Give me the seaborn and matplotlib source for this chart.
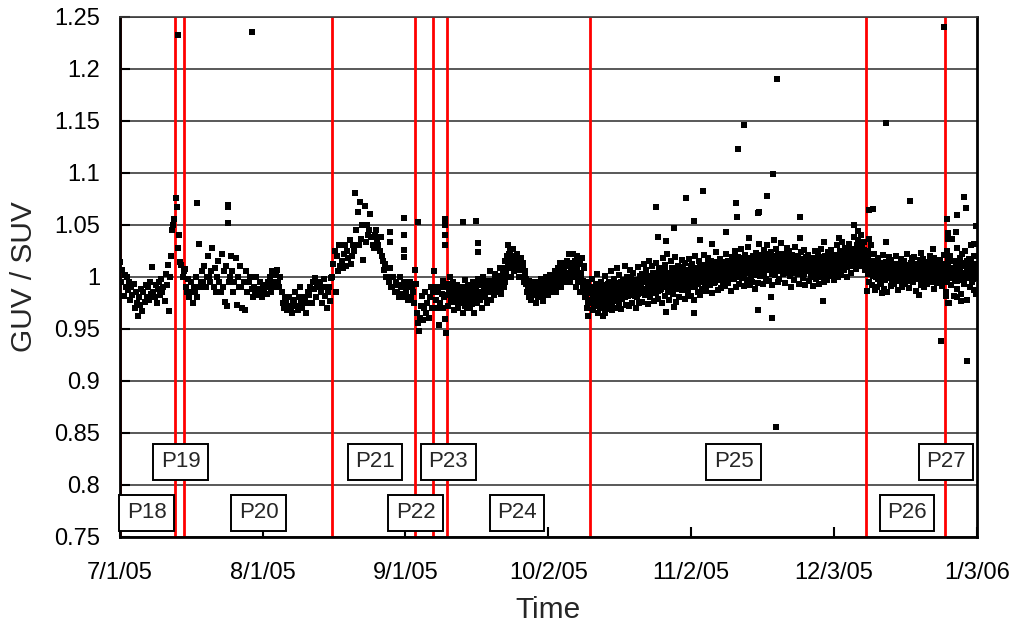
"""GUV / SUV ratio over the P18-P27 deployment periods, July 2005 to January 2006."""

import matplotlib

matplotlib.use("Agg")
import matplotlib.pyplot as plt
import numpy as np
import pandas as pd
import seaborn as sns
from matplotlib.ticker import FixedLocator, FuncFormatter


RED = "#FF0000"
GRID = "#3C3C3C"

# day offsets are counted from 7/1/05
TICK_DAYS = [0, 31, 62, 93, 124, 155, 186]
TICK_LABELS = ["7/1/05", "8/1/05", "9/1/05", "10/2/05", "11/2/05", "12/3/05", "1/3/06"]

# period boundaries (red lines): 7/1, 7/13, 7/15, 8/16, 9/3, 9/7, 9/10, 10/11, 12/10, 12/27
BOUNDARY_DAYS = [0, 12, 14, 46, 64, 68, 71, 102, 162, 179]
PERIOD_END = 186

PERIOD_NAMES = ["P18", "P19", "P20", "P21", "P22", "P23", "P24", "P25", "P26", "P27"]
LABEL_DAYS = [5.9, 13.2, 30.1, 55.4, 64.2, 71.3, 86.2, 133.2, 170.8, 179.3]
LABEL_LEVELS = [0.773, 0.822, 0.773, 0.822, 0.773, 0.822, 0.773, 0.822, 0.773, 0.822]

P18 = [
    1.014, 0.995, 1.006, 0.981, 1.002,
    0.990, 1.000, 0.987, 0.995,
    0.978, 0.990, 0.982, 0.993,
    0.970, 0.985, 0.975, 0.962,
    0.980, 0.973, 0.988, 0.967,
    0.985, 0.976, 0.992, 0.980,
    0.990, 0.978, 0.995, 0.983,
    1.009, 0.985, 0.980, 0.992,
    0.975, 0.988, 0.995, 0.982,
    0.998, 0.985, 0.990, 0.977,
    1.003, 0.992, 1.011, 0.967,
    1.000, 1.020, 1.045, 1.050, 1.055,
]

P19 = [1.076, 1.067, 1.028, 1.040, 1.014, 1.011, 1.000, 1.005]

P20 = [
    1.007, 0.990, 0.985, 0.998,
    0.980, 0.995, 0.985, 0.975,
    0.990, 0.985, 1.000, 0.980,
    1.031, 0.990, 0.995, 1.005,
    0.995, 1.010, 0.990, 1.000,
    1.020, 1.000, 0.995, 1.005,
    1.028, 0.990, 1.008, 0.985,
    1.000, 1.015, 0.995, 0.985,
    1.022, 0.990, 1.005, 0.976,
    1.010, 0.972, 0.995, 1.000,
    1.020, 1.005, 0.985, 0.995,
    1.018, 0.973, 1.000, 0.990,
    1.010, 0.990, 0.970, 0.995,
    0.968, 1.005, 0.985, 0.995,
    0.995, 1.000, 0.988, 0.980,
    0.990, 0.985, 1.000, 0.982,
    0.988, 0.995, 0.985, 0.980,
    0.990, 0.985, 0.992, 0.983,
    0.995, 0.990, 1.000, 0.985,
    1.005, 0.995, 0.990, 1.002,
    1.006, 0.995, 0.990, 1.000,
    0.985, 0.975, 0.970, 0.980,
    0.975, 0.968, 0.980, 0.972,
    0.970, 0.965, 0.975, 0.978,
    0.985, 0.972, 0.968, 0.980,
    0.990, 0.975, 0.970, 0.978,
    0.980, 0.965, 0.975, 0.985,
    0.982, 0.990, 0.975, 0.995,
    0.988, 0.999, 0.980, 0.993,
    0.990, 0.995, 0.985, 0.975,
    0.990, 0.998, 0.981, 0.970,
    0.985, 0.990, 0.977, 0.999,
]

P21 = [
    1.000, 1.012, 1.025, 0.985,
    1.020, 1.005, 1.030, 1.010,
    1.015, 1.008, 1.022, 1.030,
    1.010, 1.025, 1.018, 1.035,
    1.012, 1.020, 1.030, 1.025,
    1.080, 1.045, 1.062, 1.030,
    1.072, 1.036, 1.050, 1.016,
    1.068, 1.033, 1.050, 1.040,
    1.045, 1.060, 1.038, 1.030,
    1.028, 1.040, 1.045, 1.035,
    1.030, 1.025, 1.038, 1.020,
    1.015, 1.006, 1.012, 1.000,
    1.000, 0.995, 1.008, 0.990,
    0.990, 1.000, 0.985, 0.995,
    0.985, 0.992, 0.980, 1.000,
    0.990, 0.983, 0.995, 0.980,
    0.985, 0.990, 0.978, 0.995,
    0.980, 0.990, 0.985, 0.975,
]

P22 = [
    1.006, 0.993, 0.965, 0.955, 0.948, 0.960,
    0.972, 0.981, 0.958, 0.970, 0.985, 0.965,
    0.975, 0.960, 0.980, 0.990, 0.970, 0.985,
]

P23 = [
    1.005, 0.990, 0.978, 0.970, 0.985,
    0.954, 0.975, 0.990, 0.983, 0.996,
    0.970, 0.980, 0.959, 0.946,
]

P24 = [
    0.990, 0.972, 0.985, 1.000, 0.978,
    0.983, 0.995, 0.968, 0.988, 0.976,
    0.992, 0.980, 0.970, 0.985, 0.975,
    0.978, 0.990, 0.965, 0.982, 0.997,
    0.985, 0.970, 0.992, 0.975, 0.980,
    0.970, 0.988, 0.978, 0.995, 0.965,
    0.982, 0.990, 0.975, 0.998, 0.985,
    0.978, 0.992, 0.985, 0.970, 1.000,
    0.990, 0.980, 0.995, 0.975, 0.987,
    0.985, 1.005, 0.978, 0.993, 0.990,
    0.995, 0.982, 1.003, 0.990, 0.985,
    0.998, 0.988, 1.008, 0.983, 0.995,
    1.005, 0.990, 1.015, 0.995, 1.000,
    1.020, 1.030, 1.008, 1.025, 1.000,
    1.015, 1.027, 1.005, 1.018, 1.010,
    1.022, 1.008, 1.015, 1.000, 1.012,
    1.018, 1.000, 1.010, 0.995, 1.005,
    0.998, 0.985, 0.992, 0.980, 0.990,
    0.985, 0.978, 0.990, 0.995, 0.982,
    0.988, 0.975, 0.995, 0.980, 0.990,
    0.992, 0.982, 0.998, 0.985, 0.977,
    0.995, 0.985, 1.000, 0.990, 0.982,
    0.990, 1.002, 0.985, 0.995, 0.988,
    1.000, 0.990, 1.005, 0.985, 0.995,
    1.008, 0.995, 1.013, 0.990, 1.000,
    1.005, 1.013, 0.995, 1.010, 0.998,
    1.015, 1.000, 1.022, 0.995, 1.008,
    1.010, 1.022, 1.000, 1.015, 0.990,
    1.005, 1.020, 0.995, 1.012, 0.985,
    1.000, 1.018, 0.990, 1.008, 0.980,
    0.985, 0.970, 0.995, 0.962, 0.978,
]

# second pass of readings in the busier autumn periods
P24_EXTRA = [
    0.982, 0.993, 0.976, 0.988, 0.979, 0.991, 0.984, 0.974, 0.989,
    0.980, 0.987, 0.972, 0.978, 0.988, 0.983, 0.981, 0.974, 0.990,
    0.987, 0.979, 0.992, 0.984, 0.995, 0.980, 0.982, 0.991, 0.986,
    0.996, 0.986, 0.992, 0.990, 0.998, 0.987, 0.993, 1.001, 0.989,
    1.008, 0.997, 1.003, 1.014, 1.022, 1.011, 1.020, 1.012, 1.016,
    1.010, 1.018, 1.006, 1.006, 1.013, 1.002, 0.993, 0.987, 0.996,
    0.988, 0.983, 0.991, 0.983, 0.992, 0.986, 0.988, 0.993, 0.981,
    0.990, 0.996, 0.986, 0.993, 0.988, 0.998, 0.995, 1.001, 0.991,
    1.003, 0.998, 1.006, 1.004, 1.008, 1.001, 1.010, 1.004, 1.013,
    1.006, 1.012, 1.003, 1.009, 1.001, 1.014, 1.004, 0.996, 1.010,
    0.982, 0.975, 0.990,
]

P25 = [
    0.990, 0.975, 0.998, 0.968, 0.985, 0.979,
    0.972, 0.993, 0.980, 1.003, 0.965, 0.986,
    0.988, 0.970, 0.995, 0.978, 0.962, 0.984,
    0.976, 1.001, 0.983, 0.969, 0.992, 0.980,
    0.995, 0.972, 0.987, 1.005, 0.978, 0.968,
    0.983, 0.998, 0.970, 0.990, 0.977, 1.008,
    0.992, 0.975, 1.002, 0.984, 0.969, 0.995,
    0.979, 0.997, 0.986, 1.010, 0.973, 0.990,
    1.000, 0.981, 0.993, 0.972, 1.006, 0.985,
    0.975, 0.991, 1.004, 0.983, 0.996, 0.970,
    0.994, 0.980, 1.009, 0.987, 0.975, 1.001,
    0.985, 1.003, 0.976, 0.996, 1.012, 0.982,
    1.006, 0.988, 0.997, 0.974, 0.992, 1.015,
    0.980, 0.999, 1.010, 0.986, 1.003, 0.977,
    0.995, 1.013, 0.984, 1.004, 0.979, 0.998,
    1.008, 0.987, 1.001, 0.975, 0.996, 1.018,
    0.990, 1.011, 0.981, 1.000, 1.022, 0.985,
    1.004, 0.978, 0.997, 1.015, 0.988, 1.007,
    0.983, 1.002, 1.019, 0.990, 0.976, 0.999,
    1.010, 0.992, 0.980, 1.005, 0.995, 1.016,
    0.987, 1.008, 0.996, 0.979, 1.013, 0.991,
    1.002, 0.984, 1.017, 0.994, 1.006, 0.981,
    0.990, 1.012, 0.998, 0.978, 1.003, 1.020,
    1.007, 0.993, 0.985, 1.015, 0.999, 0.982,
    0.995, 1.011, 0.988, 1.004, 1.021, 0.990,
    1.009, 0.986, 1.002, 1.018, 0.993, 1.006,
    0.992, 1.015, 1.003, 0.984, 1.010, 0.997,
    1.012, 0.995, 1.024, 1.000, 0.987, 1.008,
    0.998, 1.017, 0.989, 1.006, 1.014, 0.993,
    1.010, 0.991, 1.003, 1.022, 0.997, 1.015,
    0.994, 1.012, 1.000, 0.986, 1.019, 1.006,
    1.014, 0.998, 1.025, 1.004, 0.990, 1.010,
    1.001, 1.019, 0.993, 1.011, 1.027, 0.999,
    1.016, 1.003, 0.991, 1.021, 1.008, 1.012,
    0.997, 1.013, 1.029, 1.005, 0.992, 1.018,
    1.010, 0.995, 1.020, 1.002, 1.015, 0.988,
    1.023, 1.006, 0.994, 1.014, 1.031, 1.001,
    1.004, 1.020, 1.010, 0.993, 1.026, 1.013,
    1.017, 0.998, 1.030, 1.008, 1.021, 0.996,
    1.006, 1.024, 1.013, 0.992, 1.018, 1.035,
    1.015, 1.002, 1.027, 1.009, 0.995, 1.021,
    0.998, 1.019, 1.007, 1.032, 1.012, 1.003,
    1.022, 1.010, 0.994, 1.016, 1.028, 1.005,
    1.008, 1.025, 1.001, 0.990, 1.014, 1.019,
    1.017, 0.997, 1.012, 1.029, 1.004, 1.010,
    1.003, 1.020, 0.993, 1.011, 1.024, 1.006,
    1.014, 0.999, 1.026, 1.008, 0.992, 1.017,
    1.005, 1.021, 1.010, 0.996, 1.015, 1.000,
    1.018, 1.002, 0.991, 1.012, 1.025, 1.007,
    0.998, 1.013, 1.022, 1.004, 0.993, 1.016,
    1.011, 1.027, 1.000, 1.015, 0.995, 1.008,
    1.020, 1.006, 0.997, 1.024, 1.010, 1.003,
    1.008, 1.018, 1.026, 1.001, 1.013, 0.997,
    1.021, 1.005, 1.015, 1.030, 1.000, 1.010,
    1.009, 1.025, 1.002, 1.017, 1.033, 1.012,
    1.020, 1.006, 1.028, 1.013, 1.000, 1.023,
    1.011, 1.031, 1.018, 1.004, 1.025, 1.015,
    1.027, 1.012, 1.038, 1.020, 1.007, 1.030,
    1.016, 1.035, 1.023, 1.010, 1.040, 1.019,
    1.028, 1.012, 1.033, 1.021, 1.006, 1.025,
]

P25_EXTRA = [
    0.984, 0.977, 0.989, 0.981, 0.973, 0.979, 0.986, 0.975, 0.990, 0.983,
    0.985, 0.978, 0.981, 0.991, 0.974, 0.980, 0.988, 0.976, 0.984, 0.993,
    0.986, 0.979, 0.992, 0.983, 0.976, 0.989, 0.982, 0.994, 0.985, 0.978,
    0.981, 0.990, 0.986, 0.995, 0.979, 0.992, 0.984, 0.988, 0.980, 0.996,
    0.986, 0.994, 0.982, 0.990, 0.998, 0.993, 0.985, 0.989, 0.997, 0.981,
    0.988, 0.996, 0.983, 0.992, 0.999, 0.991, 0.984, 0.997, 0.988, 1.002,
    0.995, 0.987, 1.001, 0.990, 0.983, 0.989, 0.997, 0.993, 1.004, 0.985,
    0.998, 0.990, 1.003, 0.994, 0.986, 0.992, 1.000, 0.988, 0.996, 1.006,
    0.997, 1.005, 0.990, 1.001, 0.993, 0.993, 1.001, 0.996, 0.987, 1.008,
    1.000, 0.992, 1.005, 0.995, 0.988, 0.994, 1.003, 0.998, 1.009, 0.990,
    1.001, 0.993, 1.006, 0.997, 0.989, 0.996, 1.004, 0.991, 1.000, 1.010,
    1.002, 0.994, 1.008, 0.998, 0.990, 0.997, 1.006, 0.993, 1.002, 1.011,
    1.003, 0.996, 1.009, 1.000, 0.993, 0.998, 1.007, 1.002, 1.012, 0.995,
    1.005, 0.999, 1.010, 1.001, 0.994, 1.000, 1.008, 1.003, 1.014, 0.997,
    1.007, 1.001, 1.011, 1.004, 0.996, 1.002, 1.009, 0.999, 1.006, 1.014,
    1.008, 1.002, 1.013, 1.005, 0.998, 1.004, 1.011, 1.007, 1.016, 1.000,
    1.010, 1.003, 1.014, 1.006, 1.018, 1.005, 1.012, 1.000, 1.009, 1.017,
    1.011, 1.004, 1.015, 1.008, 1.001, 1.006, 1.013, 1.009, 1.019, 1.002,
    1.012, 1.005, 1.016, 1.009, 1.021, 1.008, 1.015, 1.011, 1.004, 1.019,
    1.013, 1.006, 1.017, 1.010, 1.022, 1.009, 1.016, 1.003, 1.012, 1.020,
    1.014, 1.007, 1.018, 1.011, 1.005, 1.010, 1.017, 1.013, 1.022, 1.006,
    1.015, 1.008, 1.012, 1.019, 1.004, 1.011, 1.018, 1.007, 1.014, 1.021,
    1.006, 1.013, 1.016, 1.009, 1.020, 1.012, 1.005, 1.017, 1.010, 1.015,
    1.008, 1.014, 1.003, 1.011, 1.019, 1.013, 1.006, 1.016, 1.009, 1.002,
    1.007, 1.014, 1.010, 1.018, 1.004, 1.012, 1.005, 1.015, 1.008, 1.019,
    1.006, 1.013, 1.009, 1.017, 1.002, 1.014, 1.008, 1.018, 1.011, 1.004,
    1.010, 1.017, 1.013, 1.021, 1.006, 1.016, 1.009, 1.020, 1.012, 1.005,
    1.011, 1.019, 1.015, 1.023, 1.008, 1.018, 1.012, 1.022, 1.016, 1.009,
    1.014, 1.021, 1.017, 1.026, 1.010, 1.022, 1.016, 1.027, 1.019, 1.013,
    1.018, 1.025, 1.021, 1.030, 1.014, 1.023, 1.017, 1.026, 1.020, 1.012,
]

P26 = [
    1.018, 1.003, 1.025, 0.995, 1.010, 1.030,
    1.008, 0.992, 1.015, 1.002, 1.022, 0.987,
    1.000, 1.012, 0.990, 1.018, 1.005, 0.996,
    1.010, 0.993, 1.004, 1.021, 0.988, 1.007,
    0.997, 1.014, 1.002, 0.985, 1.009, 1.019,
    1.006, 0.991, 1.016, 1.000, 0.995, 1.011,
    0.993, 1.008, 1.020, 0.998, 1.004, 0.987,
    1.012, 0.996, 1.003, 1.017, 0.990, 1.007,
    1.001, 1.015, 0.993, 1.009, 1.022, 0.997,
    1.008, 0.989, 1.004, 1.013, 0.999, 1.018,
    0.995, 1.010, 1.019, 1.002, 0.986, 1.006,
    1.011, 0.998, 1.004, 1.016, 0.992, 1.023,
    1.003, 1.017, 0.990, 1.008, 1.012, 0.996,
    0.993, 1.006, 1.014, 0.999, 1.020, 1.004,
    1.009, 0.995, 1.002, 1.018, 0.988, 1.012,
    1.000, 1.013, 0.994, 1.007, 1.016, 0.997,
    1.015, 1.003, 0.991, 1.010, 1.005, 1.021,
]

P26_EXTRA = [
    1.012, 1.020, 1.006, 1.015, 1.009, 1.001, 1.013, 1.005,
    1.004, 1.010, 0.998, 1.007, 1.002, 1.009, 1.013, 0.997,
    1.006, 0.999, 1.011, 1.004, 1.003, 1.010, 0.997, 1.007,
    1.005, 0.998, 1.012, 1.001, 1.000, 1.008, 1.004, 1.013,
    1.006, 0.999, 1.011, 1.003, 1.002, 1.009, 0.996, 1.006,
    1.007, 1.000, 1.012, 1.004, 1.003, 1.010, 0.998, 1.008,
    1.006, 0.999, 1.011, 1.002, 1.001, 1.009, 1.004, 1.012,
    1.005, 0.997, 1.010, 1.003, 1.002, 1.008, 1.005, 0.998,
    1.007, 1.000, 1.012, 1.004,
]

P27 = [
    1.010, 0.985, 1.025, 0.998, 1.015, 0.975,
    1.003, 1.020, 0.992, 1.036, 1.008, 0.981,
    1.015, 0.996, 1.005, 1.028, 0.988, 1.012,
    0.999, 1.018, 1.007, 0.983, 1.022, 1.002,
    1.010, 0.993, 1.025, 1.004, 0.978, 1.015,
    1.001, 1.017, 0.990, 1.009, 1.030, 0.995,
    1.008, 0.987, 1.020, 0.999, 1.012, 0.983,
]

P27_EXTRA = [
    1.004, 0.995, 1.012, 1.000, 1.008, 0.999, 1.015, 1.003,
    1.002, 1.010, 0.996, 1.006, 1.009, 1.001, 1.013, 0.997,
    1.004, 1.011, 0.999, 1.007, 1.008, 1.000, 1.014, 1.003,
    0.998, 1.006, 1.002, 1.010,
]

# isolated readings off the main band
OUTLIER_DAYS = [
    12.6, 16.7, 23.5, 23.5, 23.5, 28.6,
    58.6, 58.6, 61.6, 61.6, 61.6, 61.6, 64.7,
    70.5, 70.5, 70.5, 70.5, 74.4, 77.4, 77.7, 77.7,
    105.2, 116.3, 116.9, 118.6, 118.6, 120.2, 120.2, 122.8, 124.5, 124.7,
    125.8, 126.6, 128.6, 131.6, 133.8, 134.0, 134.2, 135.5, 136.6, 138.4,
    138.4, 138.8, 140.5, 141.4, 141.6, 141.8, 142.4, 142.7, 147.5, 147.5,
    152.7, 152.9, 156.1, 159.4, 160.2,
    162.2, 162.6, 162.6, 163.5, 165.3, 166.3, 166.3, 171.5, 173.5, 176.5,
    178.3, 178.8, 179.3, 179.6, 179.8, 179.8, 179.8, 181.5, 181.7, 181.7,
    182.5, 183.2, 183.7, 183.9, 185.3, 185.8, 185.8,
]
OUTLIER_VALUES = [
    1.232, 1.071, 1.069, 1.067, 1.052, 1.235,
    1.043, 1.033, 1.056, 1.040, 1.026, 1.019, 1.053,
    1.055, 1.050, 1.040, 1.030, 1.053, 1.054, 1.032, 1.024,
    0.965, 1.067, 1.038, 1.034, 0.966, 1.047, 0.971, 1.076, 0.965, 1.054,
    1.035, 1.082, 1.031, 1.043, 1.071, 1.057, 1.123, 1.146, 1.037, 1.061,
    0.968, 1.062, 1.078, 0.980, 0.960, 1.099, 0.855, 1.190, 1.057, 1.037,
    0.977, 1.033, 1.037, 1.050, 1.044,
    0.986, 1.064, 1.036, 1.065, 0.984, 1.148, 1.033, 1.073, 0.982, 1.027,
    0.938, 1.240, 0.981, 1.055, 1.042, 1.036, 0.975, 1.043, 1.059, 0.980,
    0.977, 1.077, 1.066, 0.919, 1.031, 1.049, 0.983,
]


def period_readings(start, end, values):
    # readings are regularly sampled across each deployment period
    step = (end - start) / len(values)
    days = start + step * (np.arange(len(values)) + 0.5)
    return pd.DataFrame({"day": days, "ratio": values})


def build_frame():
    ends = BOUNDARY_DAYS[1:] + [PERIOD_END]
    spans = dict(zip(PERIOD_NAMES, zip(BOUNDARY_DAYS, ends)))
    chunks = [
        ("P18", P18), ("P19", P19), ("P20", P20), ("P21", P21), ("P22", P22),
        ("P23", P23), ("P24", P24), ("P24", P24_EXTRA), ("P25", P25),
        ("P25", P25_EXTRA), ("P26", P26), ("P26", P26_EXTRA), ("P27", P27),
        ("P27", P27_EXTRA),
    ]
    frames = [period_readings(*spans[name], values) for name, values in chunks]
    frames.append(pd.DataFrame({"day": OUTLIER_DAYS, "ratio": OUTLIER_VALUES}))
    return pd.concat(frames, ignore_index=True)


def main():
    sns.set_theme(style="white")
    plt.rcParams["font.family"] = ["Liberation Sans", "DejaVu Sans"]

    data = build_frame()

    fig = plt.figure(figsize=(10.18, 6.25), dpi=100)
    ax = fig.add_axes([0.1176, 0.1413, 0.8421, 0.832])

    for day in BOUNDARY_DAYS:
        ax.axvline(day, color=RED, lw=2.0, zorder=2)

    sns.scatterplot(
        data=data, x="day", y="ratio", marker="s", color="black",
        s=25, linewidth=0, ax=ax, zorder=3, legend=False,
    )

    for name, day, level in zip(PERIOD_NAMES, LABEL_DAYS, LABEL_LEVELS):
        ax.text(
            day, level, name, ha="center", va="center", fontsize=16, zorder=6,
            bbox=dict(boxstyle="square,pad=0.34", fc="white", ec="black", lw=1.4),
        )

    ax.set_xlim(0, PERIOD_END)
    ax.set_ylim(0.75, 1.25)
    ax.xaxis.set_major_locator(FixedLocator(TICK_DAYS))
    ax.set_xticklabels(TICK_LABELS)
    ax.yaxis.set_major_locator(FixedLocator(np.round(np.arange(0.75, 1.2501, 0.05), 2)))
    ax.yaxis.set_major_formatter(FuncFormatter(lambda v, _: f"{v:g}"))

    ax.yaxis.grid(True, color=GRID, lw=1.2, zorder=1)
    ax.xaxis.grid(False)
    ax.set_axisbelow(True)

    for side in ["left", "bottom", "right"]:
        ax.spines[side].set_color("black")
        ax.spines[side].set_linewidth(2.0)
    ax.spines["top"].set_color(GRID)
    ax.spines["top"].set_linewidth(1.2)

    ax.tick_params(axis="both", direction="in", length=7, width=1.5, color="black",
                   labelsize=17, labelcolor="black")
    ax.tick_params(axis="x", pad=18, bottom=True)
    ax.tick_params(axis="y", pad=14, left=True)

    ax.set_xlabel("Time", fontsize=21.5, labelpad=9)
    ax.set_ylabel("GUV / SUV", fontsize=21.5, labelpad=12)

    fig.savefig("out.png", dpi=100, facecolor="white")
    plt.close(fig)


if __name__ == "__main__":
    main()
